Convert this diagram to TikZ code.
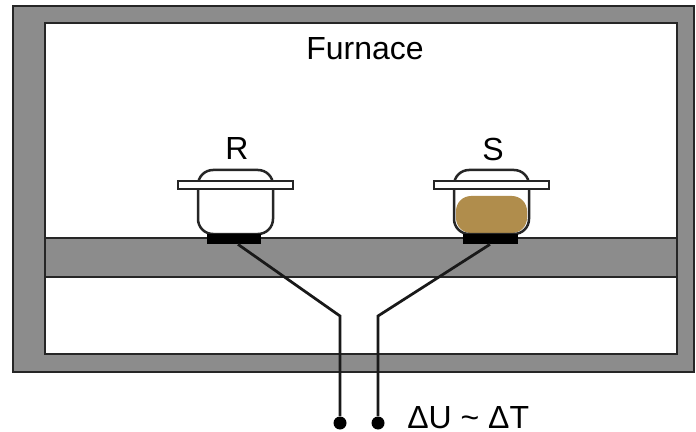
\documentclass[tikz,border=0pt]{standalone}
\usepackage{fontspec}
\setmainfont{Liberation Sans}

\definecolor{wall_grey}{RGB}{140,140,140}
\definecolor{sample_brown}{RGB}{176,141,76}

\begin{document}
\begin{tikzpicture}[x=0.02cm,y=-0.02cm]
    \tikzset{
        part/.style={draw=black!85, line width=0.05cm},
        wire/.style={draw=black!90, line width=0.055cm, line join=miter},
        pad/.style={rectangle, fill=black, inner sep=0pt, minimum width=1.1cm, minimum height=0.2cm},
        terminal/.style={circle, fill=black, inner sep=0pt, minimum size=0.26cm},
        label/.style={font=\fontsize{18.2}{20}\selectfont, inner sep=0pt}
    }
    \useasboundingbox (0,0) rectangle (696,432);

    % Ofen
    \draw[part, fill=wall_grey] (13,6) rectangle (694,372);
    \draw[part, fill=white] (45,23) rectangle (677,354);
    \draw[part, fill=wall_grey] (45,238) rectangle (677,277);
    \node[label] (furnace) at (365,49) {Furnace};

    % Probe
    \fill[sample_brown, rounded corners=0.3cm] (456,196) rectangle (527,233);

    % Tiegel
    \foreach \name/\x in {R/198,S/454} {
        \draw[part, rounded corners=0.3cm] (\x,185) -- (\x,234) -- (\x+75,234) -- (\x+75,185);
        \draw[part, rounded corners=0.3cm] (\x,185) -- (\x,170) -- (\x+75,170) -- (\x+75,185);
        \draw[part, fill=white] (\x-20,181) rectangle (\x+95,189);
        \node[pad] (pad\name) at (\x+36,239) {};
        \node[label] (label\name) at (\x+39,149) {\name};
    }

    % Anschluesse
    \node[terminal] (termR) at (340,423) {};
    \node[terminal] (termS) at (378,423) {};
    \coordinate (bendR) at (340,316);
    \coordinate (bendS) at (378,316);

    % Leitungen
    \draw[wire] ([xshift=0.08cm]padR.south) -- (bendR) -- (termR);
    \draw[wire] ([xshift=0cm]padS.south) -- (bendS) -- (termS);

    \node[label, anchor=west] (signal) at (407,418) {ΔU \char`\~{} ΔT};
\end{tikzpicture}
\end{document}
